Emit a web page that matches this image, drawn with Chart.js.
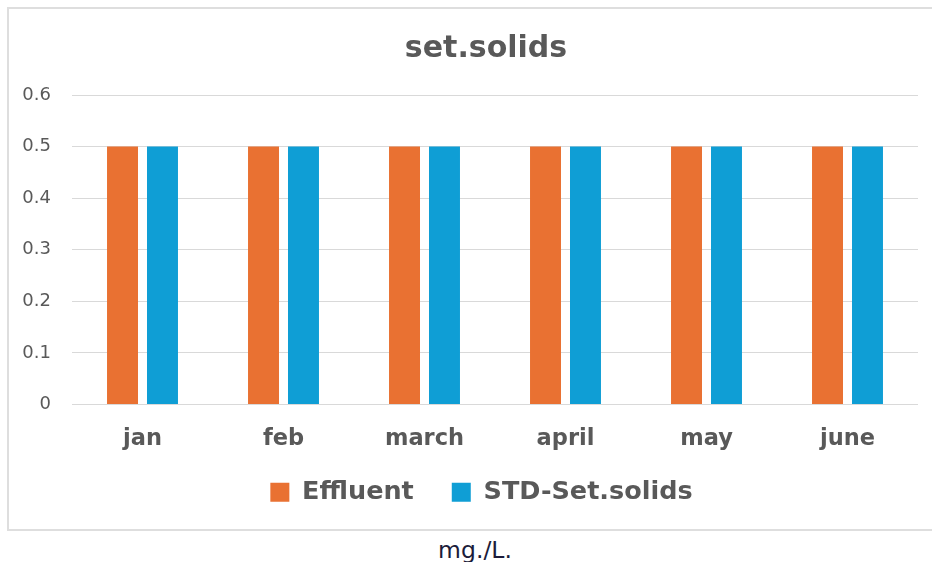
<!DOCTYPE html>
<html>
<head>
<meta charset="utf-8">
<script src="https://cdn.jsdelivr.net/npm/chart.js@4.4.1/dist/chart.umd.min.js"></script>
<style>
  html, body { margin: 0; padding: 0; background: #fff; overflow: hidden; }
  #page { width: 932px; height: 562px; position: relative; overflow: hidden; }
  #frame {
    position: absolute; left: 7px; top: 7px; width: 925px; height: 524px;
    border: 2px solid #dedede; border-right: none; box-sizing: border-box;
  }
  #unit {
    position: absolute; left: 0; width: 950px; top: 536px; text-align: center;
    font-family: "DejaVu Sans", sans-serif; font-size: 23.5px; color: #1c1c3a;
  }
</style>
</head>
<body>
<div id="page">
  <div id="frame"><canvas id="chart" width="923" height="520"></canvas></div>
  <div id="unit">mg./L.</div>
</div>
<script>
const months = ['jan', 'feb', 'march', 'april', 'may', 'june'];
const effluent = [0.5, 0.5, 0.5, 0.5, 0.5, 0.5];
const stdSetSolids = [0.5, 0.5, 0.5, 0.5, 0.5, 0.5];
const yTicks = [0, 0.1, 0.2, 0.3, 0.4, 0.5, 0.6];

const grey = '#595959';
const font = '"DejaVu Sans", sans-serif';

// original chart box runs past the right edge, so title and legend sit right of centre
const centreShift = {
    id: 'centreShift',
    afterLayout(chart) {
        chart.titleBlock.left += 22.5;
        chart.titleBlock.right += 22.5;
        chart.legend.left += 18;
        chart.legend.right += 18;
        chart.legend.top -= 25;
        chart.legend.bottom -= 25;
    }
};

const ctx = document.getElementById('chart').getContext('2d');
new Chart(ctx, {
    type: 'bar',
    data: {
        labels: months,
        datasets: [
            { label: 'Effluent', data: effluent, backgroundColor: '#E97132' },
            { label: 'STD-Set.solids', data: stdSetSolids, backgroundColor: '#0F9ED5' }
        ]
    },
    plugins: [centreShift],
    options: {
        responsive: false,
        animation: false,
        categoryPercentage: 0.567,
        barPercentage: 0.775,
        layout: { padding: { left: 0, right: 14, top: 0, bottom: -11 } },
        plugins: {
            title: {
                display: true,
                text: 'set.solids',
                color: grey,
                font: { family: font, size: 30, weight: 'bold' },
                padding: { top: 22, bottom: 28 }
            },
            legend: {
                position: 'bottom',
                labels: {
                    color: grey,
                    font: { family: font, size: 25.5, weight: 'bold' },
                    boxWidth: 19,
                    boxHeight: 19,
                    padding: 38
                }
            },
            tooltip: { enabled: false }
        },
        scales: {
            x: {
                grid: { display: false },
                border: { display: false },
                ticks: {
                    color: grey,
                    padding: 13.5,
                    font: { family: font, size: 22.5, weight: 'bold' }
                }
            },
            y: {
                min: 0,
                max: 0.6,
                afterFit: (scale) => { scale.width = 63; },
                afterBuildTicks: (scale) => { scale.ticks = yTicks.map(v => ({ value: v })); },
                grid: { color: '#d9d9d9', drawTicks: false },
                border: { display: false },
                ticks: {
                    color: grey,
                    padding: 21,
                    font: { family: font, size: 18 },
                    callback: (v) => v === 0 ? '0' : v.toFixed(1)
                }
            }
        }
    }
});
</script>
</body>
</html>
